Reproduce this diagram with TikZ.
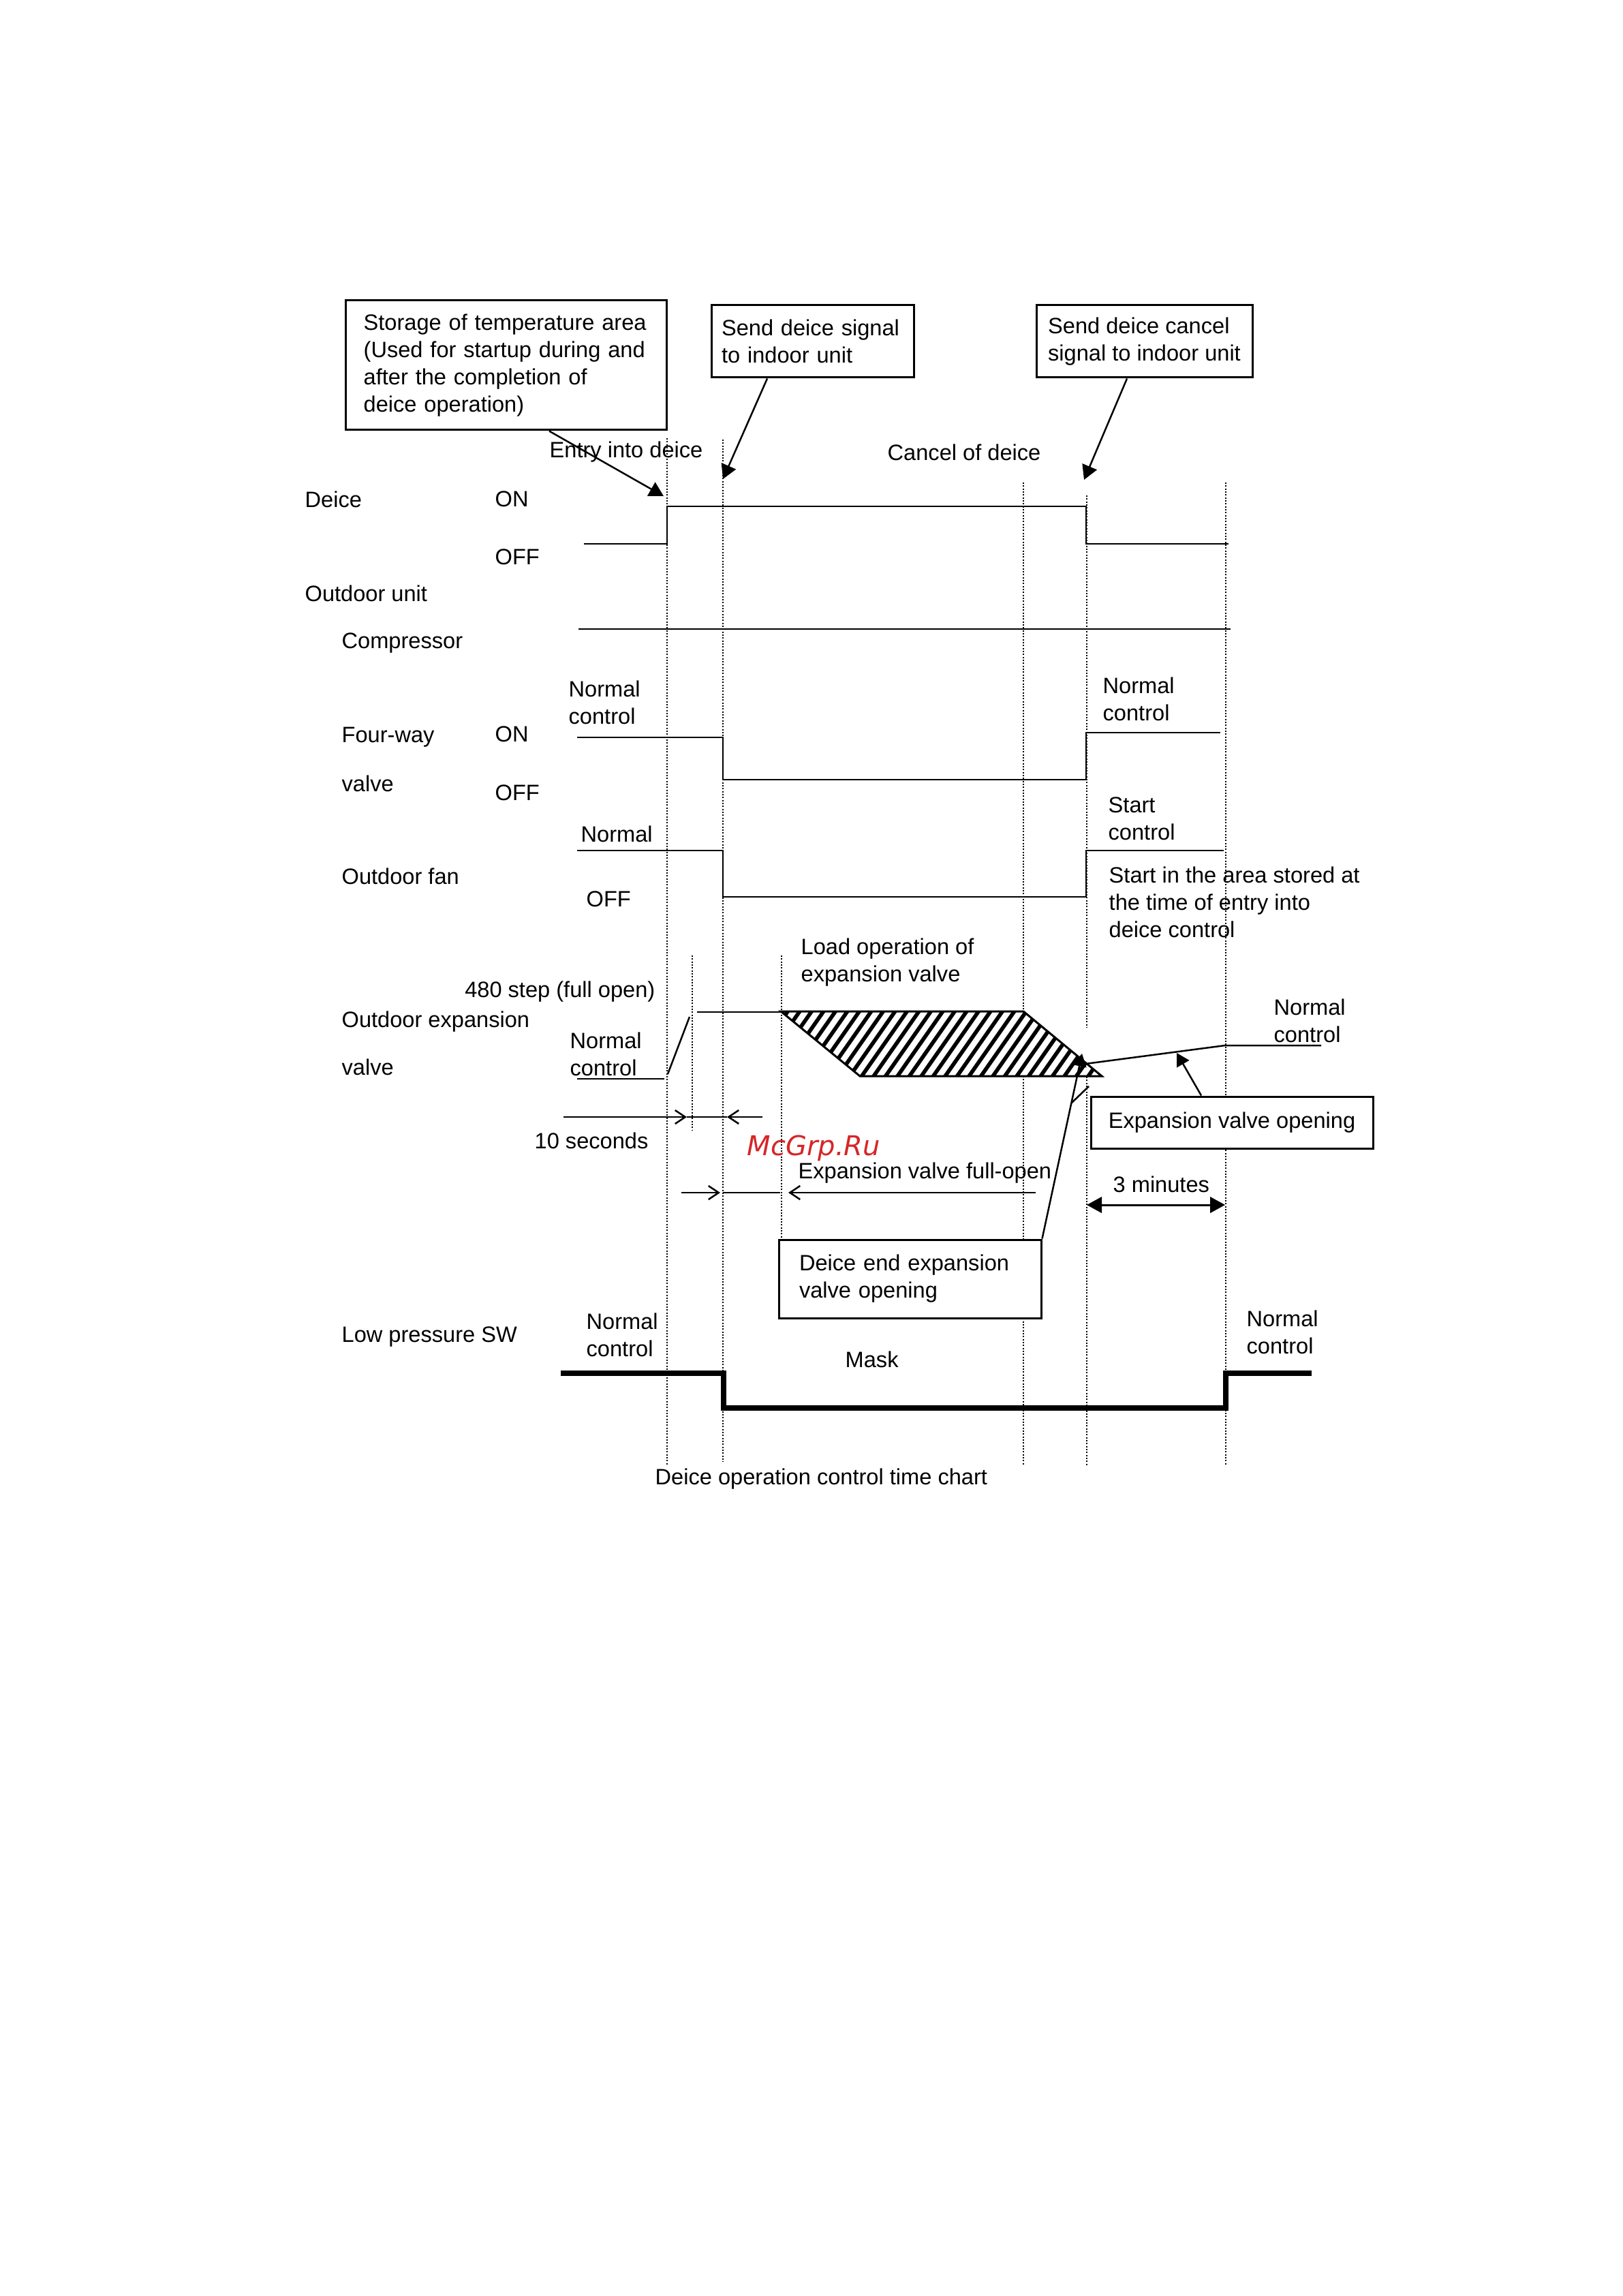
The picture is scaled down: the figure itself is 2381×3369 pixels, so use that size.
\documentclass[tikz,border=0pt]{standalone}
\usepackage{fontspec}
\setmainfont{Liberation Sans}
\newfontfamily\wmfont{DejaVu Sans}
\usetikzlibrary{arrows.meta,calc}
\definecolor{wmred}{RGB}{214,38,40}
\begin{document}
\begin{tikzpicture}[x=0.3pt,y=-0.3pt,
  lbl/.style={anchor=north west,inner sep=0pt,align=left,font=\fontsize{9.78pt}{12pt}\selectfont},
  box/.style={draw,fill=white,line width=0.9pt,inner ysep=0pt,align=left,font=\fontsize{9.78pt}{12pt}\selectfont},
  sig/.style={line width=0.75pt},
  thicksig/.style={line width=2.3pt},
  guide/.style={line width=0.5pt,dash pattern=on 0.6pt off 0.7pt},
  tipline/.style={-{Triangle[length=6.3pt,width=6.9pt]},line width=0.75pt},
  smalltip/.style={-{Triangle[length=5.6pt,width=6.2pt]},line width=0.75pt},
  barb/.style={-{Straight Barb[length=4.5pt,width=6pt]},line width=0.75pt},
]
\useasboundingbox (0,0) rectangle (2381,3369);

% dotted guide lines
\draw[guide] (979,643) -- (979,2150);
\draw[guide] (1061,645) -- (1061,2145);
\draw[guide] (1016,1402) -- (1016,1658);
\draw[guide] (1147,1402) -- (1147,1817);
\draw[guide] (1502,708) -- (1502,2150);
\draw[guide] (1595,727) -- (1595,1508);
\draw[guide] (1595,1580) -- (1595,2150);
\draw[guide] (1799,708) -- (1799,2150);

% hatched load operation area
\begin{scope}
  \clip (1146,1484) -- (1502,1484) -- (1617,1579) -- (1262,1579) -- cycle;
  \fill[white] (1100,1470) rectangle (1650,1600);
  \foreach \i in {0,...,34} \draw[line width=1.7pt] ({1040+17.5*\i},1600) -- ++(91,-130);
\end{scope}
\draw[line width=0.9pt,line join=miter] (1146,1484) -- (1502,1484) -- (1617,1579) -- (1262,1579) -- cycle;

% signal lines
\draw[sig] (857,798) -- (979,798) -- (979,743) -- (1594,743) -- (1594,798) -- (1803,798);
\draw[sig] (849,923) -- (1806,923);
\draw[sig] (847,1082) -- (1061,1082) -- (1061,1144) -- (1594,1144) -- (1594,1075) -- (1791,1075);
\draw[sig] (847,1248) -- (1061,1248) -- (1061,1316) -- (1594,1316) -- (1594,1248) -- (1796,1248);
\draw[sig] (847,1583) -- (975,1583);
\draw[sig] (980,1576) -- (1012,1492);
\draw[sig] (1023,1485) -- (1146,1485);
\draw[sig] (1593,1561) -- (1798,1534) -- (1939,1534);
\draw[sig] (1573,1618) -- (1598,1594);
\draw[thicksig] (823,2015) -- (1062,2015) -- (1062,2066) -- (1799,2066) -- (1799,2015) -- (1925,2015);

% boxes
\node[box,minimum width=141.3pt,minimum height=57pt,inner xsep=8pt,text width=125.3pt] (b1) at (742.5,536)
  {Storage of temperature area\\(Used for startup during and\\after the completion of\\deice operation)};
\node[box,minimum width=89.1pt,minimum height=31.8pt,inner xsep=4.5pt,text width=80.1pt] (b2) at (1192.5,501)
  {Send deice signal\\to indoor unit};
\node[box,minimum width=95.1pt,minimum height=31.8pt,inner xsep=3pt] (b3) at (1679.5,501)
  {Send deice cancel\\signal to indoor unit};
\node[box,minimum width=124.2pt,minimum height=22.8pt,inner xsep=3pt] (b4) at (1808,1647)
  {Expansion valve opening};
\node[box,minimum width=115.5pt,minimum height=34.5pt,inner xsep=9pt,text width=97.5pt] (b5) at (1335.5,1876.5)
  {Deice end expansion\\valve opening};

% callout arrows
\coordinate (t1) at (974,728);
\coordinate (t2) at (1061,703);
\coordinate (t3) at (1591,704);
\coordinate (t4) at (1727,1545);
\coordinate (t5) at (1588,1546);
\draw[tipline] ($(b1.south)+(63.5,0)$) -- (t1);
\draw[tipline] ($(b2.south)+(-66.5,0)$) -- (t2);
\draw[tipline] ($(b3.south)+(-25.5,0)$) -- (t3);
\draw[smalltip] ($(b4.north)+(-45,0)$) -- (t4);
\draw[smalltip] (b5.north east) -- (t5);

% interval arrows
\coordinate (s1) at (827,1639);
\coordinate (s2) at (1008,1639);
\coordinate (s3) at (1067,1639);
\coordinate (s4) at (1119,1639);
\draw[barb] (s1) -- (s2);
\draw[line width=0.6pt] (s2) -- (s3);
\draw[barb] (s4) -- (s3);
\coordinate (f1) at (1000,1750);
\coordinate (f2) at (1057,1750);
\coordinate (f3) at (1061,1750);
\coordinate (f4) at (1145,1750);
\coordinate (f5) at (1157,1750);
\coordinate (f6) at (1520,1750);
\draw[barb] (f1) -- (f2);
\draw[line width=0.75pt] (f3) -- (f4);
\draw[barb] (f6) -- (f5);
\coordinate (m1) at (1595,1768);
\coordinate (m2) at (1798,1768);
\draw[{Triangle[length=6.6pt,width=7pt]}-{Triangle[length=6.6pt,width=7pt]},line width=0.9pt] (m1) -- (m2);

% labels
\node[lbl] (l1) at (806,647) {Entry into deice};
\node[lbl] (l2) at (1302,651) {Cancel of deice};
\node[lbl] (l3) at (447,720) {Deice};
\node[lbl] (l4) at (726,720) {ON};
\node[lbl] (l5) at (726,805) {OFF};
\node[lbl] (l6) at (447,858) {Outdoor unit};
\node[lbl] (l7) at (501,928) {Compressor};
\node[lbl] (l8) at (834,998) {Normal\\control};
\node[lbl] (l9) at (501,1066) {Four-way};
\node[lbl] (l10) at (726,1065) {ON};
\node[lbl] (l11) at (501,1137) {valve};
\node[lbl] (l12) at (726,1151) {OFF};
\node[lbl] (l13) at (1618,993) {Normal\\control};
\node[lbl] (l14) at (1626,1169) {Start\\control};
\node[lbl] (l15) at (852,1211) {Normal};
\node[lbl] (l16) at (501,1273) {Outdoor fan};
\node[lbl] (l17) at (860,1307) {OFF};
\node[lbl] (l18) at (1627,1271) {Start in the area stored at\\the time of entry into\\deice control};
\node[lbl] (l19) at (1175,1376) {Load operation of\\expansion valve};
\node[lbl,anchor=north east] (l20) at (962,1439) {480 step (full open)};
\node[lbl] (l21) at (501,1483) {Outdoor expansion};
\node[lbl] (l22) at (501,1553) {valve};
\node[lbl] (l23) at (836,1514) {Normal\\control};
\node[lbl] (l24) at (1869,1465) {Normal\\control};
\node[lbl] (l25) at (784,1661) {10 seconds};
\node[lbl] (l26) at (1171,1705) {Expansion valve full-open};
\node[lbl] (l27) at (1633,1725) {3 minutes};
\node[lbl] (l28) at (501,1946) {Low pressure SW};
\node[lbl] (l29) at (860,1926) {Normal\\control};
\node[lbl] (l30) at (1240,1982) {Mask};
\node[lbl] (l31) at (1829,1922) {Normal\\control};
\node[lbl] (l32) at (961,2154) {Deice operation control time chart};
\node[anchor=west,inner sep=0pt,text=wmred,font=\wmfont\itshape\fontsize{12pt}{14pt}\selectfont] (wm) at (1096,1685) {McGrp.Ru};
\end{tikzpicture}
\end{document}
